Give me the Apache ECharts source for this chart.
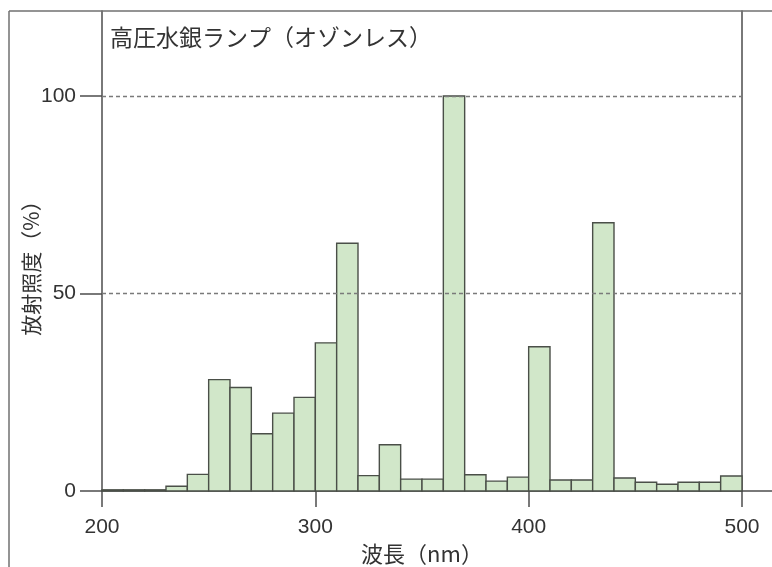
<!DOCTYPE html>
<html>
<head>
<meta charset="utf-8">
<script src="https://cdn.jsdelivr.net/npm/echarts@6/dist/echarts.min.js"></script>
<style>
  html, body { margin: 0; padding: 0; background: #ffffff; }
  #chart { width: 772px; height: 567px; }
</style>
</head>
<body>
<div id="chart"></div>
<script>
// Data: bin start wavelengths (nm), each bin is 10 nm wide
const binStarts = [200, 210, 220, 230, 240, 250, 260, 270, 280, 290,
                   300, 310, 320, 330, 340, 350, 360, 370, 380, 390,
                   400, 410, 420, 430, 440, 450, 460, 470, 480, 490];
// Relative irradiance (%)
const irradiance = [0.3, 0.3, 0.3, 1.2, 4.2, 28.2, 26.2, 14.5, 19.7, 23.7,
                    37.5, 62.7, 3.9, 11.7, 3.0, 3.0, 100, 4.1, 2.5, 3.5,
                    36.5, 2.8, 2.8, 67.9, 3.3, 2.2, 1.7, 2.2, 2.2, 3.8];
const xTicks = [200, 300, 400, 500];
const yTicks = [0, 50, 100];
const gridLines = [50, 100];

const titleText = '高圧水銀ランプ（オゾンレス）';
const xName = '波長（nm）';
const yName = '放射照度（%）';

const binWidth = binStarts[1] - binStarts[0];
const seriesData = binStarts.map((s, i) => [s, irradiance[i]]);

const W = 772, H = 567;
const G = { left: 102, right: 30, top: 11, bottom: 76 };
const axisColor = '#4d4d4d';
const frameColor = '#707070';
const textColor = '#333333';
const cjkFont = '"Noto Sans CJK JP", "Noto Sans", sans-serif';
const numFont = '"Liberation Sans", Arial, sans-serif';

const chart = echarts.init(document.getElementById('chart'), null, { renderer: 'canvas' });

chart.setOption({
  backgroundColor: '#ffffff',
  animation: false,
  title: {
    text: titleText,
    left: 105, top: 21,
    textStyle: { fontFamily: cjkFont, fontSize: 23, fontWeight: 'normal', color: textColor }
  },
  grid: { left: G.left, right: G.right, top: G.top, bottom: G.bottom, containLabel: false, outerBoundsMode: 'none' },
  xAxis: {
    type: 'value',
    min: 200, max: 500, interval: 100,
    name: xName,
    nameLocation: 'middle',
    nameGap: 49,
    nameTextStyle: { fontFamily: cjkFont, fontSize: 22, color: textColor },
    axisLine: { show: true, lineStyle: { color: axisColor, width: 1.5 } },
    axisTick: { show: true, length: 16, inside: false, customValues: xTicks, lineStyle: { color: axisColor, width: 1.5 } },
    axisLabel: { customValues: xTicks, margin: 26, fontFamily: numFont, fontSize: 21, color: textColor },
    splitLine: { show: false }
  },
  yAxis: [{
    type: 'value',
    min: 0, max: 121.5,
    axisLine: { show: true, onZero: false, lineStyle: { color: axisColor, width: 1.5 } },
    axisTick: { show: true, length: 22, inside: false, customValues: yTicks, lineStyle: { color: axisColor, width: 1.5 } },
    axisLabel: { customValues: yTicks, margin: 26, fontFamily: numFont, fontSize: 21, color: textColor },
    splitLine: { show: false }
  }, {
    type: 'value',
    min: 0, max: 121.5,
    position: 'right',
    axisLine: { show: true, onZero: false, lineStyle: { color: axisColor, width: 1.5 } },
    axisTick: { show: false },
    axisLabel: { show: false },
    splitLine: { show: false }
  }],
  series: [{
    type: 'custom',
    data: seriesData,
    encode: { x: 0, y: 1 },
    clip: false,
    renderItem: function (params, api) {
      const x0 = api.value(0);
      const v = api.value(1);
      const p0 = api.coord([x0, 0]);
      const p1 = api.coord([x0 + binWidth, v]);
      return {
        type: 'rect',
        shape: { x: p0[0], y: p1[1], width: p1[0] - p0[0], height: p0[1] - p1[1] },
        style: { fill: '#d1e7c9', stroke: '#4a4f48', lineWidth: 1.4 }
      };
    },
    markLine: {
      silent: true,
      symbol: ['none', 'none'],
      label: { show: false },
      lineStyle: { type: [4, 3], color: '#7a7a7a', width: 1.3 },
      data: gridLines.map(v => ({ yAxis: v }))
    },
    z: 3
  }],
  graphic: [
    { type: 'line', shape: { x1: 9, y1: G.top, x2: W, y2: G.top }, style: { stroke: frameColor, lineWidth: 1.5 }, z: 10 },
    { type: 'line', shape: { x1: 9, y1: G.top, x2: 9, y2: H }, style: { stroke: frameColor, lineWidth: 1.5 }, z: 10 },
    { type: 'line', shape: { x1: W - G.right, y1: H - G.bottom, x2: W, y2: H - G.bottom }, style: { stroke: axisColor, lineWidth: 1.5 }, z: 10 },
    {
      type: 'text', x: 31, y: 263, rotation: Math.PI / 2,
      style: { text: yName, fill: textColor, font: '21px ' + cjkFont, align: 'center', verticalAlign: 'middle' },
      z: 10
    }
  ]
});
</script>
</body>
</html>
